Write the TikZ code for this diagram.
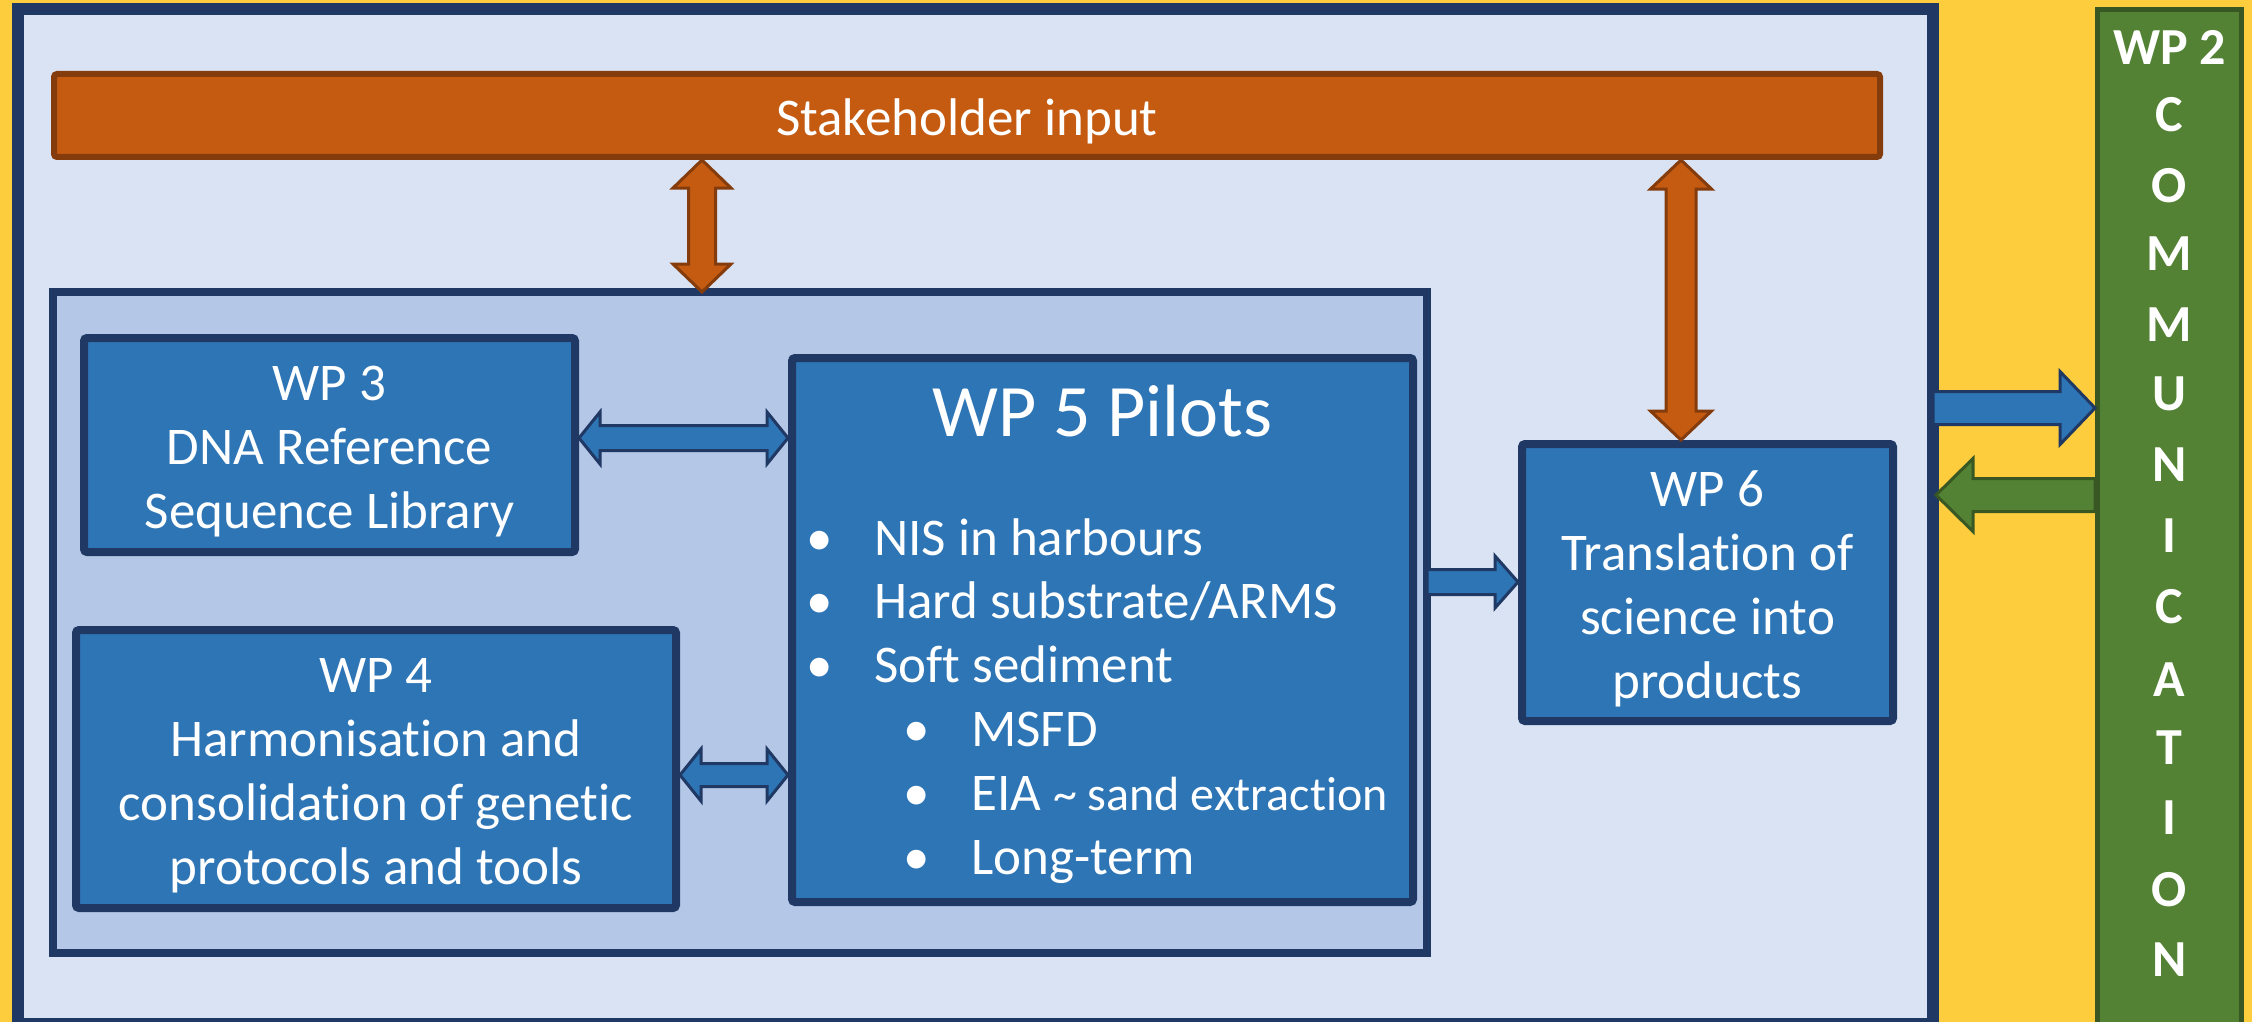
\documentclass[tikz,border=0pt]{standalone}
\usepackage{fontspec}
\setmainfont[Ligatures=NoCommon]{Carlito}
\usetikzlibrary{calc}
\definecolor{bgyellow}{HTML}{FECD3E}
\definecolor{navy}{HTML}{1F3864}
\definecolor{lightfill}{HTML}{DAE3F3}
\definecolor{midfill}{HTML}{B4C7E7}
\definecolor{boxblue}{HTML}{2E75B6}
\definecolor{orangefill}{HTML}{C55A11}
\definecolor{orangeline}{HTML}{843C0C}
\definecolor{greenfill}{HTML}{548235}
\definecolor{greenline}{HTML}{385723}
\newcommand\topstrut{\rule{0pt}{48pt}}
\tikzset{
  frame/.style={draw=navy, inner sep=0pt, outer sep=0pt},
  wpbox/.style={draw=navy, fill=boxblue, line width=8pt, rounded corners=3pt, text=white,
     align=center, inner sep=0pt, font=\fontsize{53}{64}\selectfont},
  bodytext/.style={text=white, inner sep=0pt, font=\fontsize{53}{64}\selectfont},
  commtext/.style={text=white, inner sep=0pt, anchor=base, font=\fontsize{52}{62}\selectfont\bfseries},
  bluearrow/.style={fill=boxblue, draw=navy, line width=3pt, line join=miter},
  orangearrow/.style={fill=orangefill, draw=orangeline, line width=3pt, line join=miter},
  greenarrow/.style={fill=greenfill, draw=greenline, line width=3pt, line join=miter},
}
% double fat arrow: #1 style, #2 start, #3 end, #4 shaft half, #5 head half, #6 head length
\newcommand\dblfat[6]{%
  \filldraw[#1] (#2)
   -- ($(#2)!#6!(#3)!#5!90:(#3)$)
   -- ($(#2)!#6!(#3)!#4!90:(#3)$)
   -- ($(#3)!#6!(#2)!#4!-90:(#2)$)
   -- ($(#3)!#6!(#2)!#5!-90:(#2)$)
   -- (#3)
   -- ($(#3)!#6!(#2)!#5!90:(#2)$)
   -- ($(#3)!#6!(#2)!#4!90:(#2)$)
   -- ($(#2)!#6!(#3)!#4!-90:(#3)$)
   -- ($(#2)!#6!(#3)!#5!-90:(#3)$)
   -- cycle;}
% single fat arrow
\newcommand\onefat[6]{%
  \filldraw[#1] ($(#2)!#4!90:(#3)$)
   -- ($(#3)!#6!(#2)!#4!-90:(#2)$)
   -- ($(#3)!#6!(#2)!#5!-90:(#2)$)
   -- (#3)
   -- ($(#3)!#6!(#2)!#5!90:(#2)$)
   -- ($(#3)!#6!(#2)!#4!90:(#2)$)
   -- ($(#2)!#4!-90:(#3)$)
   -- cycle;}
\begin{document}
\begin{tikzpicture}[x=1pt,y=-1pt]
\useasboundingbox (0,0) rectangle (2252,1022);
\fill[bgyellow] (0,0) rectangle (2252,1022);

% outer frame
\node[frame, fill=lightfill, line width=12pt, minimum width=1915pt, minimum height=1015pt] (outer) at (975.5,516.5) {};

% stakeholder bar
\node[draw=orangeline, fill=orangefill, line width=6pt, rounded corners=3pt, inner sep=0pt,
      minimum width=1826pt, minimum height=83pt, text=white, font=\fontsize{53}{64}\selectfont,
      text height=48pt, text depth=8pt]
      (stake) at (967,115.5) {Stakeholder input};

% inner frame
\node[frame, fill=midfill, line width=8pt, minimum width=1374pt, minimum height=661pt] (inner) at (740,622.5) {};

% work package boxes
\node[wpbox, minimum width=491pt, minimum height=214pt] (wp3) at (329.5,445)
  {\topstrut WP 3\\DNA Reference\\Sequence Library};
\node[wpbox, minimum width=600pt, minimum height=278pt] (wp4) at (376,769)
  {\topstrut WP 4\\Harmonisation and\\consolidation of genetic\\protocols and tools};
\node[wpbox, minimum width=621pt, minimum height=544pt] (wp5) at (1102.5,630) {};
\node[wpbox, minimum width=371pt, minimum height=277pt] (wp6) at (1707.5,582.5)
  {\topstrut WP 6\\Translation of\\science into\\products};

% WP5 contents
\node[text=white, inner sep=0pt, anchor=base, font=\fontsize{74}{88}\selectfont] (wp5title) at (1102.5,436) {WP 5 Pilots};
\foreach \nm/\bx/\tx/\yy/\txt in {
   b1/820/874/555/{NIS in harbours},
   b2/820/874/618/{Hard substrate/ARMS},
   b3/820/874/682/{Soft sediment},
   b4/917/971/746/{MSFD},
   b5/917/971/810/{EIA {\fontsize{48}{58}\selectfont\textasciitilde\ sand extraction}},
   b6/917/971/874/{Long-term}} {
  \node[bodytext, anchor=base] (\nm dot) at (\bx,\yy) {•};
  \node[bodytext, anchor=base west] (\nm) at (\tx,\yy) {\txt};
}

% WP2 communication column
\node[draw=greenline, fill=greenfill, line width=5pt, inner sep=0pt, minimum width=144pt, minimum height=1030pt] (wp2) at (2169.5,524.5) {};
\foreach \nm/\yy/\txt in {c0/64.5/{WP 2}, c1/131.5/C, c2/202.5/O, c3/270.5/M, c4/341.5/M, c5/410.5/U,
   c6/481.5/N, c7/552.5/I, c8/623.5/C, c9/696.5/A, c10/764.5/T, c11/834.5/I, c12/906.5/O, c13/976.5/N} {
  \node[commtext] (\nm) at (2169.5,\yy) {\txt};
}

% connector end points
\coordinate (y438) at (0,438);
\coordinate (y775) at (0,775);
\coordinate (y582) at (0,582);
\coordinate (y408) at (0,408);
\coordinate (y495) at (0,495);
\coordinate (x702) at (702,0);
\coordinate (x1681) at (1681,0);
\coordinate (a1s) at (wp3.east |- y438);
\coordinate (a1e) at (wp5.west |- y438);
\coordinate (a2s) at (wp4.east |- y775);
\coordinate (a2e) at (wp5.west |- y775);
\coordinate (a3s) at (inner.east |- y582);
\coordinate (a3e) at (wp6.west |- y582);
\coordinate (a4s) at (x702 |- stake.south);
\coordinate (a4e) at (x702 |- inner.north);
\coordinate (a5s) at (x1681 |- stake.south);
\coordinate (a5e) at (x1681 |- wp6.north);
\coordinate (a6s) at (outer.east |- y408);
\coordinate (a6e) at (wp2.west |- y408);
\coordinate (a7s) at (wp2.west |- y495);
\coordinate (a7e) at ([xshift=3pt]outer.east |- y495);

% connectors
\dblfat{bluearrow}{a1s}{a1e}{12.5pt}{26pt}{21pt}
\dblfat{bluearrow}{a2s}{a2e}{11.5pt}{26pt}{21pt}
\onefat{bluearrow}{a3s}{a3e}{12.5pt}{26pt}{23pt}
\dblfat{orangearrow}{a4s}{a4e}{13.5pt}{29pt}{28pt}
\dblfat{orangearrow}{a5s}{a5e}{15pt}{30.5pt}{29pt}
\onefat{bluearrow}{a6s}{a6e}{16.5pt}{36.5pt}{35pt}
\onefat{greenarrow}{a7s}{a7e}{16.5pt}{36.5pt}{37pt}
\end{tikzpicture}
\end{document}
